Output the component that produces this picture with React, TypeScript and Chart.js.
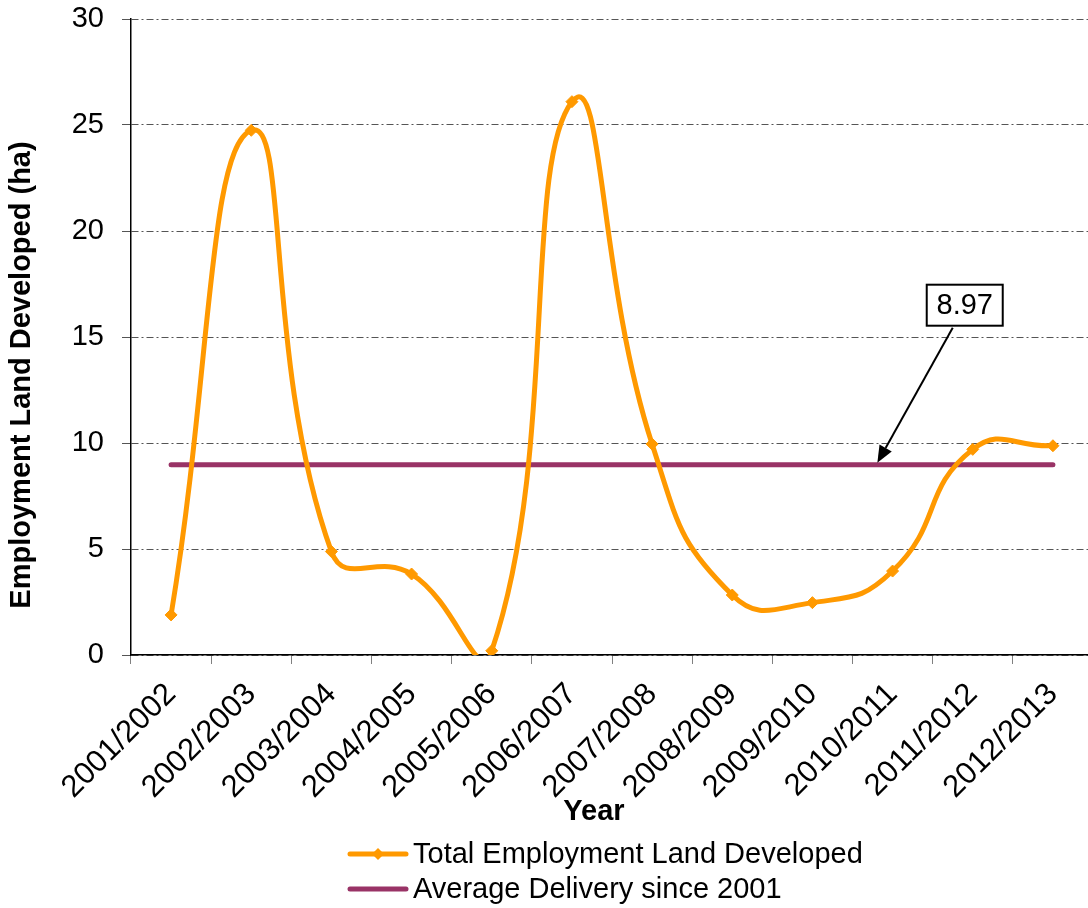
import { useEffect, useRef } from "react";
import { Chart, registerables } from "chart.js";

Chart.register(...registerables);

// Financial years on the category axis
const YEARS = [
  "2001/2002",
  "2002/2003",
  "2003/2004",
  "2004/2005",
  "2005/2006",
  "2006/2007",
  "2007/2008",
  "2008/2009",
  "2009/2010",
  "2010/2011",
  "2011/2012",
  "2012/2013",
];

// Hectares of employment land developed per year
const LAND_DEVELOPED = [1.89, 24.75, 4.88, 3.82, 0.2, 26.1, 9.95, 2.83, 2.47, 3.96, 9.7, 9.87];

// Average annual delivery since 2001 (ha)
const AVERAGE_DELIVERY = 8.97;
const AVERAGE_LABEL = "8.97";

const SERIES_NAMES = ["Total Employment Land Developed", "Average Delivery since 2001"];
const Y_MIN = 0;
const Y_MAX = 30;
const Y_STEP = 5;
const X_TITLE = "Year";
const Y_TITLE = "Employment Land Developed (ha)";

const ORANGE = "#FF9900";
const PURPLE = "#993366";
const FONT = '"Liberation Sans", Arial, Helvetica, sans-serif';

function drawDiamond(ctx: CanvasRenderingContext2D, cx: number, cy: number, r: number, color: string) {
  ctx.beginPath();
  ctx.moveTo(cx, cy - r);
  ctx.lineTo(cx + r, cy);
  ctx.lineTo(cx, cy + r);
  ctx.lineTo(cx - r, cy);
  ctx.closePath();
  ctx.fillStyle = color;
  ctx.fill();
}

// Axis titles, legend and the callout pointing at the average line
const decorations = {
  id: "decorations",
  afterDatasetsDraw(chart: any) {
    const { ctx, scales } = chart;
    const x = scales.x;
    const y = scales.y;

    const tipX = x.getPixelForValue(8.81);
    const tipY = y.getPixelForValue(AVERAGE_DELIVERY) - 2;
    const boxCx = x.getPixelForValue(9.9);
    const boxCy = y.getPixelForValue(16.5);
    const boxW = 76;
    const boxH = 41;

    ctx.save();
    // arrow
    const sx = boxCx - 12;
    const sy = boxCy + boxH / 2 + 2;
    const ang = Math.atan2(tipY - sy, tipX - sx);
    const headLen = 17;
    const headHalf = 7;
    const bx = tipX - headLen * Math.cos(ang);
    const by = tipY - headLen * Math.sin(ang);
    ctx.strokeStyle = "#000";
    ctx.lineWidth = 2;
    ctx.beginPath();
    ctx.moveTo(sx, sy);
    ctx.lineTo(bx, by);
    ctx.stroke();
    ctx.beginPath();
    ctx.moveTo(tipX, tipY);
    ctx.lineTo(bx + headHalf * Math.sin(ang), by - headHalf * Math.cos(ang));
    ctx.lineTo(bx - headHalf * Math.sin(ang), by + headHalf * Math.cos(ang));
    ctx.closePath();
    ctx.fillStyle = "#000";
    ctx.fill();

    // label box
    ctx.fillStyle = "#fff";
    ctx.fillRect(boxCx - boxW / 2, boxCy - boxH / 2, boxW, boxH);
    ctx.lineWidth = 2;
    ctx.strokeRect(boxCx - boxW / 2, boxCy - boxH / 2, boxW, boxH);
    ctx.fillStyle = "#000";
    ctx.font = `29px ${FONT}`;
    ctx.textAlign = "center";
    ctx.textBaseline = "middle";
    ctx.fillText(AVERAGE_LABEL, boxCx, boxCy + 1);
    ctx.restore();
  },
  afterDraw(chart: any) {
    const { ctx } = chart;
    ctx.save();
    ctx.fillStyle = "#000";
    ctx.font = `bold 29px ${FONT}`;
    ctx.textAlign = "center";
    ctx.textBaseline = "middle";
    ctx.fillText(X_TITLE, 594, 812);

    ctx.save();
    ctx.translate(22, 375);
    ctx.rotate(-Math.PI / 2);
    ctx.fillText(Y_TITLE, 0, 0);
    ctx.restore();

    // legend
    const rows = [
      { name: SERIES_NAMES[0], color: ORANGE, marker: true, y: 854 },
      { name: SERIES_NAMES[1], color: PURPLE, marker: false, y: 889 },
    ];
    ctx.font = `29px ${FONT}`;
    ctx.textAlign = "left";
    for (const r of rows) {
      ctx.strokeStyle = r.color;
      ctx.lineWidth = 5;
      ctx.lineCap = "round";
      ctx.beginPath();
      ctx.moveTo(350, r.y);
      ctx.lineTo(406, r.y);
      ctx.stroke();
      if (r.marker) drawDiamond(ctx, 378, r.y, 6, r.color);
      ctx.fillStyle = "#000";
      ctx.fillText(r.name, 413, r.y + 1);
    }
    ctx.restore();
  },
};

export default function App() {
  const canvasRef = useRef<HTMLCanvasElement | null>(null);

  useEffect(() => {
    const canvas = canvasRef.current;
    if (!canvas) return;
    const chart = new Chart(canvas, {
      type: "line",
      data: {
        labels: YEARS,
        datasets: [
          {
            label: SERIES_NAMES[0],
            data: LAND_DEVELOPED,
            borderColor: ORANGE,
            backgroundColor: ORANGE,
            borderWidth: 5,
            borderCapStyle: "round",
            borderJoinStyle: "round",
            tension: 0.5,
            pointStyle: "rectRot",
            pointRadius: 6,
            pointBorderWidth: 1,
            pointBackgroundColor: ORANGE,
            pointBorderColor: ORANGE,
            clip: 0,
            order: 1,
          },
          {
            label: SERIES_NAMES[1],
            data: YEARS.map(() => AVERAGE_DELIVERY),
            borderColor: PURPLE,
            backgroundColor: PURPLE,
            borderWidth: 5,
            borderCapStyle: "round",
            tension: 0,
            pointRadius: 0,
            order: 2,
          },
        ],
      },
      options: {
        animation: false,
        responsive: false,
        devicePixelRatio: 1,
        layout: { padding: { top: 19, right: 3, bottom: 83, left: 0 } },
        elements: { line: { capBezierPoints: false } },
        plugins: {
          legend: { display: false },
          tooltip: { enabled: false },
        },
        scales: {
          x: {
            type: "category",
            offset: true,
            afterFit: (scale: any) => {
              scale.height = 170;
            },
            grid: {
              offset: true,
              drawOnChartArea: false,
              drawTicks: true,
              tickLength: 9,
              tickColor: "#808080",
              tickWidth: 1,
              tickBorderDash: [],
            },
            border: { display: true, color: "#000", width: 1.5 },
            ticks: {
              autoSkip: false,
              maxRotation: 45,
              minRotation: 45,
              padding: 12,
              color: "#000",
              font: { family: FONT, size: 31 },
            },
          },
          y: {
            min: Y_MIN,
            max: Y_MAX,
            afterFit: (scale: any) => {
              scale.width = 131;
              scale.paddingTop = 0;
              scale.paddingBottom = 0;
            },
            grid: {
              color: "#555",
              lineWidth: 1,
              drawTicks: true,
              tickLength: 9,
              tickColor: "#555",
              tickWidth: 1,
              tickBorderDash: [],
            },
            border: { display: true, color: "#000", width: 1.5, dash: [7, 3, 2, 3] },
            ticks: {
              stepSize: Y_STEP,
              padding: 18,
              color: "#000",
              font: { family: FONT, size: 29 },
            },
          },
        },
      },
      plugins: [decorations],
    } as any);
    return () => chart.destroy();
  }, []);

  return (
    <div
      style={{
        position: "fixed",
        left: 0,
        top: 0,
        width: 1088,
        height: 908,
        overflow: "hidden",
        background: "#fff",
      }}
    >
      <canvas ref={canvasRef} width={1100} height={908} style={{ width: 1100, height: 908, display: "block" }} />
    </div>
  );
}
